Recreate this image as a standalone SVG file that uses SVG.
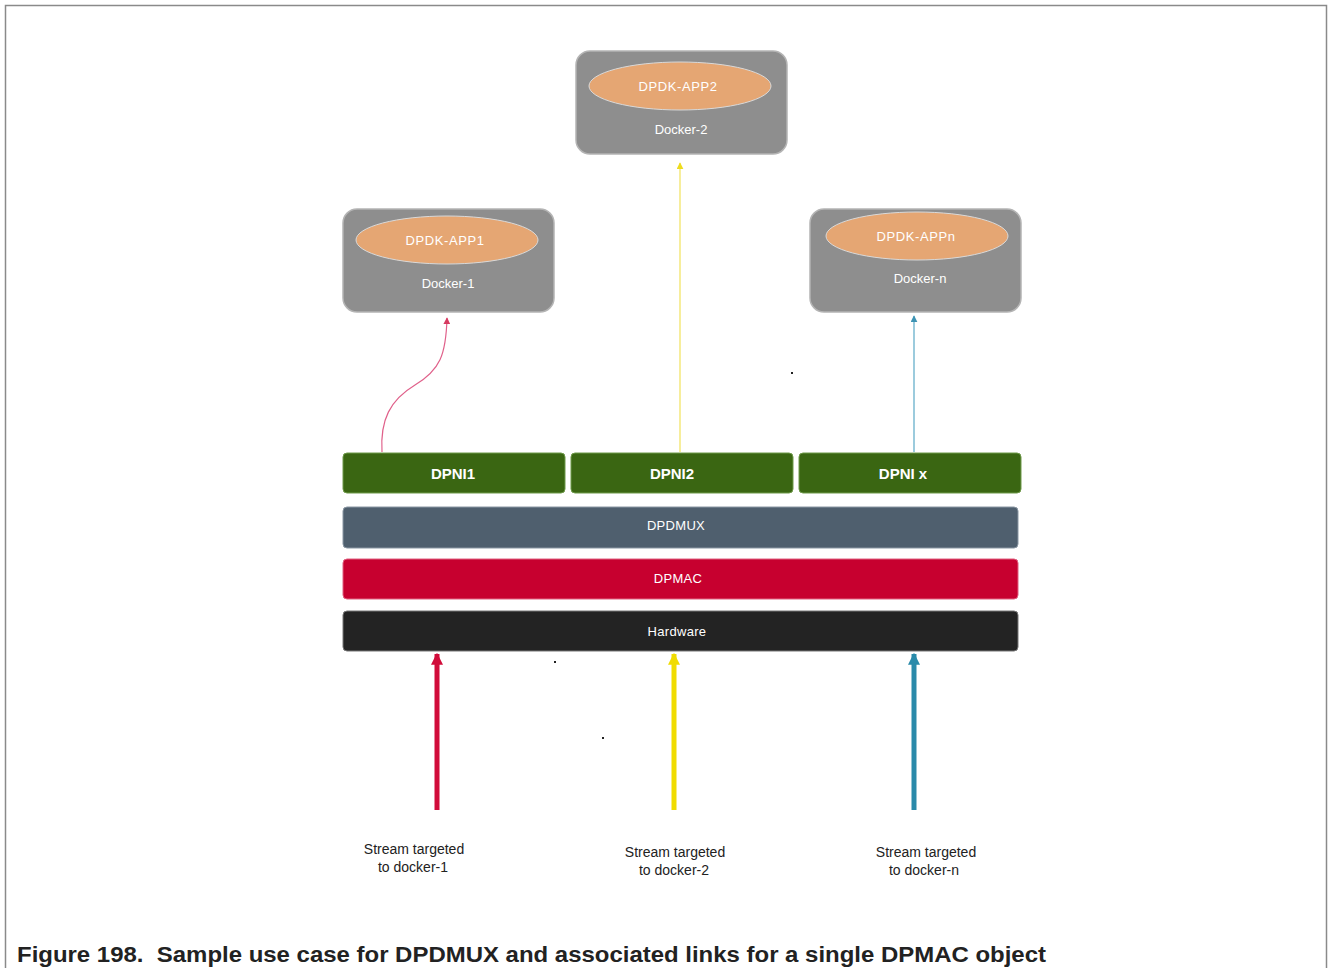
<svg xmlns="http://www.w3.org/2000/svg" width="1328" height="968" viewBox="0 0 1328 968">
<style>
.docker{fill:#8e8e8e;stroke:#b4b4b4;stroke-width:1.5}
.app{fill:#e5a673;stroke:#d9d9d9;stroke-width:1}
.t{font-family:"Liberation Sans",Arial,sans-serif;fill:#fff;text-anchor:middle}
.app-t{font-size:13px;letter-spacing:0.6px}
.dk-t{font-size:13px}
.dpni{fill:#3a6612;stroke:#6f9a4a;stroke-width:1}
.dpni-t{font-size:15px;font-weight:bold}
.bar-t{font-size:13px;letter-spacing:0.3px}
.lbl{font-family:"Liberation Sans",Arial,sans-serif;font-size:14px;fill:#222;text-anchor:middle}
</style>
<defs>
<marker id="hRed" viewBox="0 0 10 10" refX="9" refY="5" markerWidth="7" markerHeight="7" orient="auto" markerUnits="userSpaceOnUse"><path d="M0,0 L10,5 L0,10 z" fill="#d63a60"/></marker>
<marker id="hYel" viewBox="0 0 10 10" refX="9" refY="5" markerWidth="7" markerHeight="7" orient="auto" markerUnits="userSpaceOnUse"><path d="M0,0 L10,5 L0,10 z" fill="#eedc1e"/></marker>
<marker id="hBlu" viewBox="0 0 10 10" refX="9" refY="5" markerWidth="7" markerHeight="7" orient="auto" markerUnits="userSpaceOnUse"><path d="M0,0 L10,5 L0,10 z" fill="#3d93b3"/></marker>
<marker id="HRed" viewBox="0 0 10 10" refX="9" refY="5" markerWidth="12" markerHeight="12" orient="auto" markerUnits="userSpaceOnUse"><path d="M0,0 L10,5 L0,10 z" fill="#d10c3a"/></marker>
<marker id="HYel" viewBox="0 0 10 10" refX="9" refY="5" markerWidth="12" markerHeight="12" orient="auto" markerUnits="userSpaceOnUse"><path d="M0,0 L10,5 L0,10 z" fill="#f0dc00"/></marker>
<marker id="HBlu" viewBox="0 0 10 10" refX="9" refY="5" markerWidth="12" markerHeight="12" orient="auto" markerUnits="userSpaceOnUse"><path d="M0,0 L10,5 L0,10 z" fill="#2a8aaa"/></marker>
</defs>
<rect width="1328" height="968" fill="#fff"/>
<path d="M5.5,975 V5.5 H1326.5 V975" fill="none" stroke="#8a8a8a" stroke-width="1.5"/>

<g id="docker2">
<rect class="docker" x="576" y="51" width="211" height="103" rx="14"/>
<ellipse class="app" cx="680" cy="86" rx="91" ry="24"/>
<text class="t app-t" x="678" y="91">DPDK-APP2</text>
<text class="t dk-t" x="681" y="134">Docker-2</text>
</g>
<g id="docker1">
<rect class="docker" x="343" y="209" width="211" height="103" rx="14"/>
<ellipse class="app" cx="447" cy="240" rx="91" ry="24"/>
<text class="t app-t" x="445" y="245">DPDK-APP1</text>
<text class="t dk-t" x="448" y="288">Docker-1</text>
</g>
<g id="dockern">
<rect class="docker" x="810" y="209" width="211" height="103" rx="14"/>
<ellipse class="app" cx="917" cy="236" rx="91" ry="24"/>
<text class="t app-t" x="916" y="241">DPDK-APPn</text>
<text class="t dk-t" x="920" y="283">Docker-n</text>
</g>

<g id="connectors" fill="none">
<path d="M382,452 C380,420 390,400 415,385 C440,370 446,355 447,318" stroke="#e0608a" stroke-width="1.2" marker-end="url(#hRed)"/>
<path d="M680,452 V163" stroke="#f2e25a" stroke-width="1.2" marker-end="url(#hYel)"/>
<path d="M914,452 V316" stroke="#5aa8c6" stroke-width="1.2" marker-end="url(#hBlu)"/>
<path d="M437,810 V654" stroke="#d10c3a" stroke-width="5" marker-end="url(#HRed)"/>
<path d="M674,810 V654" stroke="#f0dc00" stroke-width="5" marker-end="url(#HYel)"/>
<path d="M914,810 V654" stroke="#2a8aaa" stroke-width="5" marker-end="url(#HBlu)"/>
</g>

<g id="dpni1">
<rect class="dpni" x="343" y="453" width="222" height="40" rx="4"/>
<text class="t dpni-t" x="453" y="479">DPNI1</text>
</g>
<g id="dpni2">
<rect class="dpni" x="571" y="453" width="222" height="40" rx="4"/>
<text class="t dpni-t" x="672" y="479">DPNI2</text>
</g>
<g id="dpnix">
<rect class="dpni" x="799" y="453" width="222" height="40" rx="4"/>
<text class="t dpni-t" x="903" y="479">DPNI x</text>
</g>
<g id="dpdmux">
<rect x="343" y="507" width="675" height="41" rx="4" fill="#4f5f6e" stroke="#8a97a3" stroke-width="1"/>
<text class="t bar-t" x="676" y="530">DPDMUX</text>
</g>
<g id="dpmac">
<rect x="343" y="559" width="675" height="40" rx="4" fill="#c7002f" stroke="#e06080" stroke-width="1"/>
<text class="t bar-t" x="678" y="583">DPMAC</text>
</g>
<g id="hardware">
<rect x="343" y="611" width="675" height="40" rx="4" fill="#232323" stroke="#777" stroke-width="1"/>
<text class="t bar-t" x="677" y="636">Hardware</text>
</g>

<g id="labels">
<text class="lbl" x="414" y="854">Stream targeted</text>
<text class="lbl" x="413" y="872">to docker-1</text>
<text class="lbl" x="675" y="857">Stream targeted</text>
<text class="lbl" x="674" y="875">to docker-2</text>
<text class="lbl" x="926" y="857">Stream targeted</text>
<text class="lbl" x="924" y="875">to docker-n</text>
</g>

<g id="dots" fill="#222">
<rect x="791" y="372" width="2" height="2"/>
<rect x="554" y="661" width="2" height="2"/>
<rect x="602" y="737" width="2" height="2"/>
</g>

<text x="17" y="962" font-family="Liberation Sans,Arial,sans-serif" font-size="22.5" font-weight="bold" fill="#222" textLength="1029" lengthAdjust="spacingAndGlyphs" xml:space="preserve">Figure 198.  Sample use case for DPDMUX and associated links for a single DPMAC object</text>
</svg>
